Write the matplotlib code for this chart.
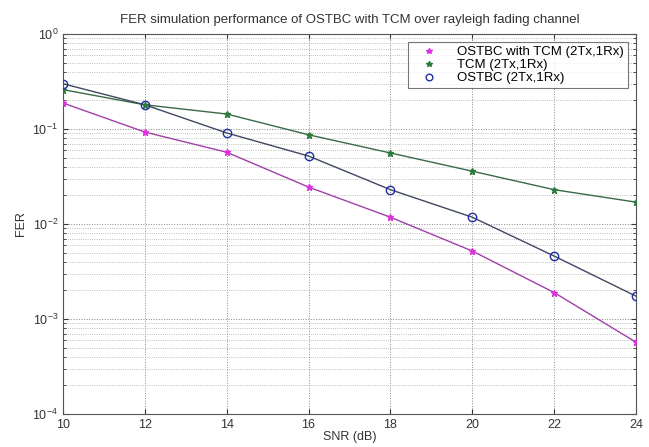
import numpy as np
import matplotlib
matplotlib.use("Agg")
import matplotlib.pyplot as plt
from matplotlib.ticker import LogLocator, NullFormatter

snr = [10, 12, 14, 16, 18, 20, 22, 24]
fer_ostbc_tcm = [0.188, 0.093, 0.057, 0.0245, 0.0118, 0.0052, 0.0019, 0.00057]
fer_tcm = [0.26, 0.18, 0.144, 0.087, 0.056, 0.036, 0.023, 0.017]
fer_ostbc = [0.30, 0.18, 0.091, 0.052, 0.023, 0.0118, 0.0046, 0.00174]
labels = ["OSTBC with TCM (2Tx,1Rx)", "TCM (2Tx,1Rx)", "OSTBC (2Tx,1Rx)"]
xticks = [10, 12, 14, 16, 18, 20, 22, 24]

plt.rcParams['font.family'] = ['Liberation Sans', 'DejaVu Sans']
fig = plt.figure(figsize=(6.49, 4.47), dpi=100)
ax = fig.add_axes([0.097, 0.0738, 0.883, 0.850])

ax.semilogy(snr, fer_ostbc_tcm, '-', color='#a040a8', lw=1.0, zorder=3)
ax.semilogy(snr, fer_ostbc_tcm, '*', color='#e030e0', ms=5, lw=0, label=labels[0], zorder=4)
ax.semilogy(snr, fer_tcm, '-', color='#3a6a48', lw=1.0, zorder=3)
ax.semilogy(snr, fer_tcm, '*', color='#2a7a3a', ms=5, lw=0, label=labels[1], zorder=4)
ax.semilogy(snr, fer_ostbc, '-', color='#404860', lw=1.0, zorder=3)
ax.semilogy(snr, fer_ostbc, 'o', mfc='none', mec='#2030a0', ms=6, mew=1.0, lw=0, label=labels[2], zorder=4)

ax.set_xlim(10, 24)
ax.set_ylim(1e-4, 1)
ax.set_xticks(xticks)
ax.yaxis.set_major_locator(LogLocator(base=10, numticks=10))
ax.yaxis.set_minor_locator(LogLocator(base=10, subs=np.arange(2, 10), numticks=20))
ax.yaxis.set_minor_formatter(NullFormatter())
ax.grid(True, which='major', linestyle=':', color='#888888', lw=0.7)
ax.grid(True, which='minor', axis='y', linestyle=':', color='#aaaaaa', lw=0.6)
ax.tick_params(which='both', direction='in', top=True, right=True, labelsize=9, colors='#333333')
ax.tick_params(which='minor', length=2)
for s in ax.spines.values():
    s.set_color('#555555')
    s.set_linewidth(0.8)

ax.set_title("FER simulation performance of OSTBC with TCM over rayleigh fading channel", fontsize=9.5, color='#333333', pad=8)
ax.set_xlabel("SNR (dB)", fontsize=9, color='#333333', labelpad=0)
ax.set_ylabel("FER", fontsize=9, color='#333333', labelpad=4)

leg = ax.legend(loc='upper right', fontsize=9.5, frameon=True, fancybox=False, edgecolor='#555555',
                borderpad=0.3, labelspacing=0.05, handletextpad=0.8, handlelength=2.6,
                borderaxespad=0.62, markerscale=0.8)
leg.get_frame().set_linewidth(0.8)

fig.savefig("out.png", dpi=100)
